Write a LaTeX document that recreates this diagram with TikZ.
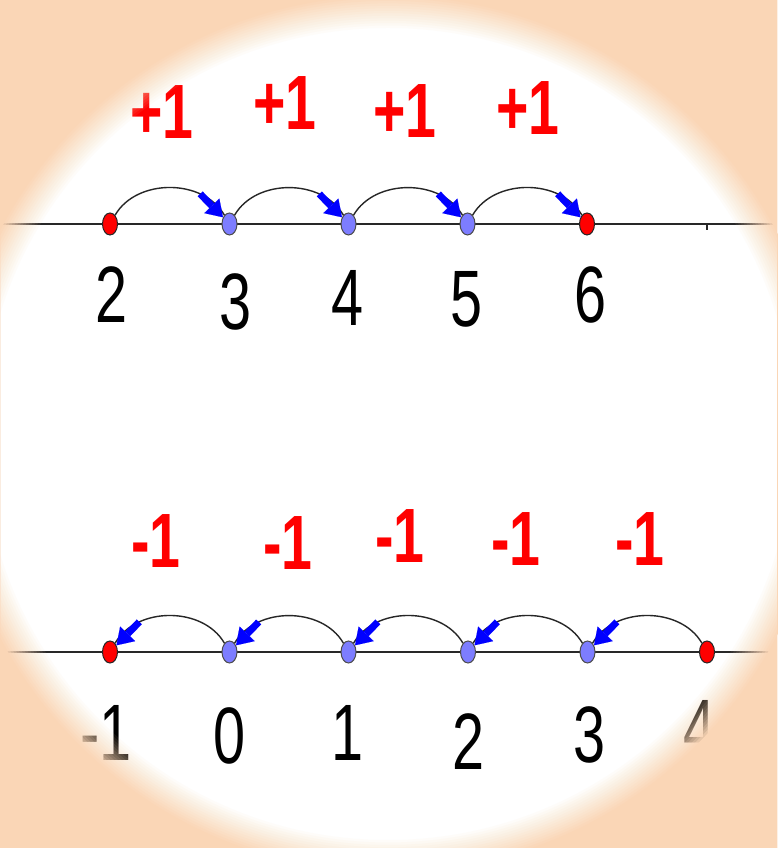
\documentclass[tikz,border=0pt]{standalone}
\usepackage{graphicx}
\usepackage{fontspec}
\setmainfont{Liberation Sans}
\usetikzlibrary{shapes.geometric,arrows.meta}
\definecolor{peach}{RGB}{250,214,182}
\definecolor{dotblue}{RGB}{125,125,255}
\definecolor{axisgray}{RGB}{40,40,40}
\newcommand{\squeeze}[1]{\scalebox{0.72}[1]{#1}}
\tikzset{
  dotred/.style={ellipse, draw=black!85, line width=1pt, fill=red,
    minimum width=15pt, minimum height=22pt, inner sep=0pt},
  dotbl/.style={dotred, fill=dotblue, draw=black!70},
  axisline/.style={draw=axisgray, line width=1.8pt},
  hop/.style={draw=black!85, line width=1.4pt},
  jumparrow/.style={draw=blue, line width=7pt,
    -{Triangle[length=16pt,width=21pt,line width=0.1pt]}},
  steplbl/.style={text=red, inner sep=0pt, font=\bfseries\fontsize{77}{77}\selectfont},
  numlbl/.style={text=black, inner sep=0pt, font=\fontsize{80}{80}\selectfont},
}
\begin{document}
\begin{tikzpicture}[x=1pt,y=1pt]
\useasboundingbox (0,0) rectangle (777,848);
\fill[white] (0,0) rectangle (777,848);

% ---------- top number line ----------
\coordinate (tl) at (0,624);
\coordinate (tr) at (777,624);
\draw[axisline] (tl) -- (tr);
\coordinate (tk) at (707,624);
\coordinate (tkb) at (707,618);
\draw[draw=axisgray, line width=1.2pt] (tk) -- (tkb);

\node[dotred] (t2) at (110,624) {};
\node[dotbl]  (t3) at (229.5,624) {};
\node[dotbl]  (t4) at (348.5,624) {};
\node[dotbl]  (t5) at (467.5,624) {};
\node[dotred] (t6) at (587,624) {};

\draw[hop] (t2) to[out=60,in=120] node[coordinate,pos=0.74] (c1) {} (t3);
\draw[hop] (t3) to[out=60,in=120] node[coordinate,pos=0.74] (c2) {} (t4);
\draw[hop] (t4) to[out=60,in=120] node[coordinate,pos=0.74] (c3) {} (t5);
\draw[hop] (t5) to[out=60,in=120] node[coordinate,pos=0.74] (c4) {} (t6);
\draw[jumparrow] (c1) -- (t3);
\draw[jumparrow] (c2) -- (t4);
\draw[jumparrow] (c3) -- (t5);
\draw[jumparrow] (c4) -- (t6);

\node[steplbl] (p1) at (162,736) {\squeeze{+1}};
\node[steplbl] (p2) at (285,745) {\squeeze{+1}};
\node[steplbl] (p3) at (405,737) {\squeeze{+1}};
\node[steplbl] (p4) at (528,740) {\squeeze{+1}};

\node[numlbl] (n2) at (112,553) {\squeeze{2}};
\node[numlbl] (n3) at (236,546) {\squeeze{3}};
\node[numlbl] (n4) at (348,550) {\squeeze{4}};
\node[numlbl] (n5) at (467,549) {\squeeze{5}};
\node[numlbl] (n6) at (591,553) {\squeeze{6}};

% ---------- bottom number line ----------
\coordinate (bl) at (0,196);
\coordinate (br) at (777,196);
\draw[axisline] (bl) -- (br);

\node[dotred] (bm1) at (110,196) {};
\node[dotbl]  (b0)  at (229.5,196) {};
\node[dotbl]  (b1)  at (348.5,196) {};
\node[dotbl]  (b2)  at (468,196) {};
\node[dotbl]  (b3)  at (587.5,196) {};
\node[dotred] (b4)  at (707,196) {};

\draw[hop] (b0) to[out=120,in=60] node[coordinate,pos=0.74] (d1) {} (bm1);
\draw[hop] (b1) to[out=120,in=60] node[coordinate,pos=0.74] (d2) {} (b0);
\draw[hop] (b2) to[out=120,in=60] node[coordinate,pos=0.74] (d3) {} (b1);
\draw[hop] (b3) to[out=120,in=60] node[coordinate,pos=0.74] (d4) {} (b2);
\draw[hop] (b4) to[out=120,in=60] node[coordinate,pos=0.74] (d5) {} (b3);
\draw[jumparrow] (d1) -- (bm1);
\draw[jumparrow] (d2) -- (b0);
\draw[jumparrow] (d3) -- (b1);
\draw[jumparrow] (d4) -- (b2);
\draw[jumparrow] (d5) -- (b3);

\node[steplbl] (m1) at (156,307) {\squeeze{-1}};
\node[steplbl] (m2) at (288,305) {\squeeze{-1}};
\node[steplbl] (m3) at (400,312) {\squeeze{-1}};
\node[steplbl] (m4) at (516,309) {\squeeze{-1}};
\node[steplbl] (m5) at (640,309) {\squeeze{-1}};

\node[numlbl] (km1) at (106,115) {\squeeze{-1}};
\node[numlbl] (k0)  at (230,112) {\squeeze{0}};
\node[numlbl] (k1)  at (348,115) {\squeeze{1}};
\node[numlbl] (k2)  at (469,106) {\squeeze{2}};
\node[numlbl] (k3)  at (590,113) {\squeeze{3}};
\node[numlbl] (k4)  at (700,120) {\squeeze{4}};

% ---------- vignette overlay ----------
\foreach \k in {1,...,14}{
  \pgfmathsetmacro\rr{406+(\k-1)*32/13}
  \pgfmathsetmacro\op{1/(15-\k)}
  \fill[peach, fill opacity=\op, even odd rule]
    (0,0) rectangle (777,848) (388,414) circle[radius=\rr pt];
}
\end{tikzpicture}
\end{document}
